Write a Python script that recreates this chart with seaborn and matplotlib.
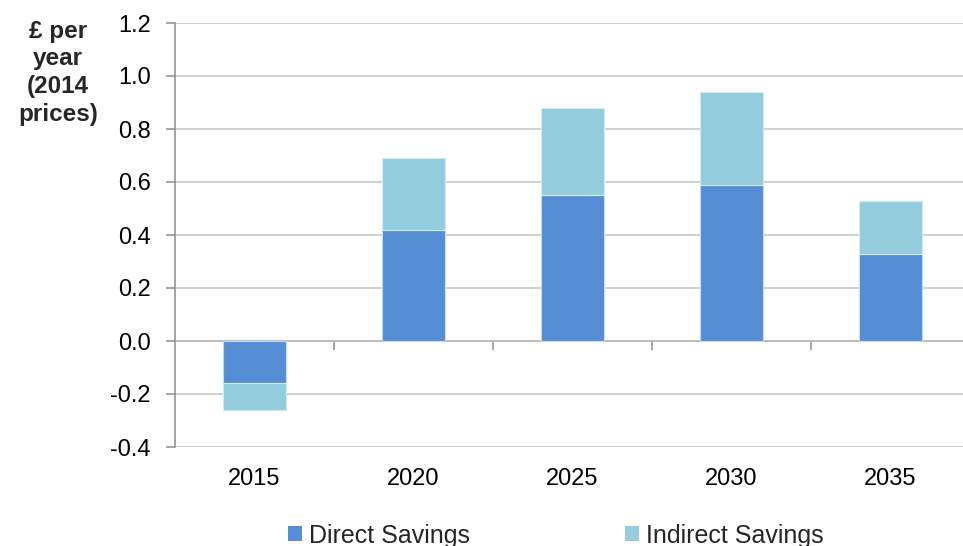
import matplotlib
matplotlib.use("Agg")
import matplotlib.pyplot as plt
import seaborn as sns
import numpy as np
from matplotlib.patches import Patch

# Savings per year by projection year (GBP, 2014 prices)
years = ["2015", "2020", "2025", "2030", "2035"]
direct_savings = [-0.16, 0.42, 0.55, 0.59, 0.33]
indirect_savings = [-0.10, 0.27, 0.33, 0.35, 0.20]
y_ticks = [-0.4, -0.2, 0.0, 0.2, 0.4, 0.6, 0.8, 1.0, 1.2]

DIRECT_COLOR = "#558ED5"
INDIRECT_COLOR = "#93CDDD"

sns.set_theme(style="white")
plt.rcParams["font.family"] = ["Liberation Sans", "DejaVu Sans"]

fig = plt.figure(figsize=(9.63, 5.46), dpi=100)
ax = fig.add_axes([175 / 963, 1 - 447 / 546, 795 / 963, 424 / 546])

sns.barplot(x=years, y=direct_savings, color=DIRECT_COLOR, saturation=1,
            width=0.4, errorbar=None, edgecolor="#c4dbf2", linewidth=0.8,
            ax=ax, zorder=3)
sns.barplot(x=years, y=indirect_savings, bottom=direct_savings,
            color=INDIRECT_COLOR, saturation=1, width=0.4, errorbar=None,
            edgecolor="#d2ecf3", linewidth=0.8, ax=ax, zorder=3)

ax.set_xlim(-0.5, len(years) - 0.5)
ax.set_ylim(-0.4, 1.2)
ax.set_yticks(y_ticks)
ax.set_yticklabels([f"{t:.1f}" for t in y_ticks])
ax.yaxis.grid(True, color="#c4c4c4", linewidth=1.1, zorder=0)
ax.set_axisbelow(True)

for side in ("top", "right", "bottom"):
    ax.spines[side].set_visible(False)
ax.spines["left"].set_color("#8c8c8c")
ax.spines["left"].set_linewidth(1.1)

ax.tick_params(axis="y", which="major", left=True, length=6.5, width=1.1,
               color="#8c8c8c", pad=11, labelsize=17, labelcolor="black")
ax.tick_params(axis="x", which="major", length=0, pad=15, labelsize=17,
               labelcolor="black")
ax.set_xlabel("")
ax.set_ylabel("")

# Category axis drawn along the zero line, with ticks between categories
zero_frac = (0 - (-0.4)) / (1.2 - (-0.4))
sec = ax.secondary_xaxis(zero_frac)
sec.set_xticks(np.arange(0.5, len(years) - 0.5, 1.0))
sec.set_xticklabels([])
sec.tick_params(axis="x", direction="out", length=6.5, width=1.1,
                color="#8c8c8c")
sec.spines["bottom"].set_color("#8c8c8c")
sec.spines["bottom"].set_linewidth(1.1)
for side in ("top", "left", "right"):
    sec.spines[side].set_visible(False)

fig.text(58 / 963, 1 - 20 / 546, "£ per\nyear\n(2014\nprices)",
         ha="center", va="top", fontsize=17.5, fontweight="bold",
         linespacing=1.25)

handles = [Patch(facecolor=DIRECT_COLOR, edgecolor="none"),
           Patch(facecolor=INDIRECT_COLOR, edgecolor="none")]
fig.legend(handles, ["Direct Savings", "Indirect Savings"], ncol=2,
           loc="center", bbox_to_anchor=(556 / 963, 1 - 535.5 / 546),
           frameon=False, fontsize=18, handlelength=0.55, handleheight=0.55,
           handletextpad=0.3, columnspacing=6.2, borderpad=0, borderaxespad=0)

fig.savefig("out.png", dpi=100)
